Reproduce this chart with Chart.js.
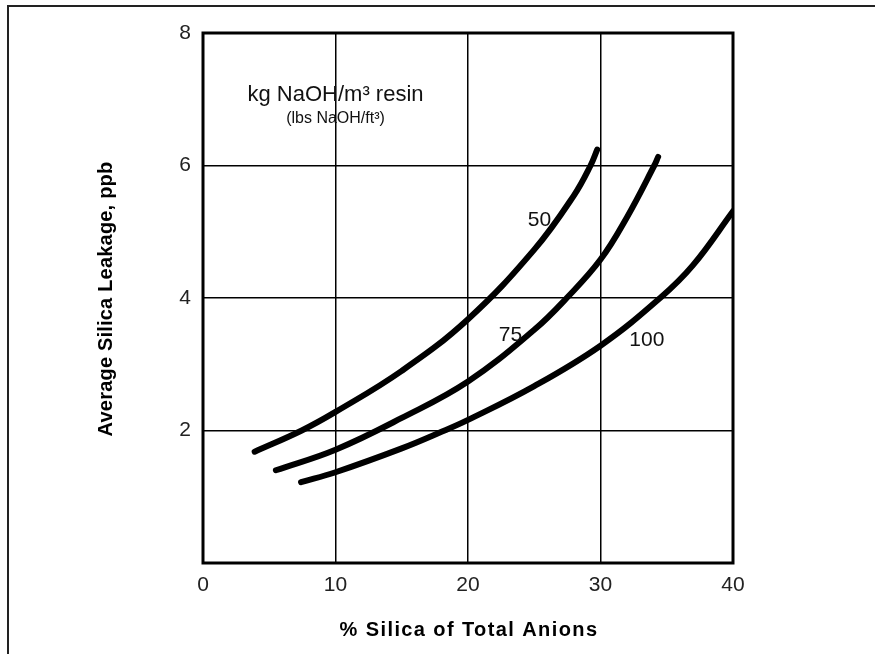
<!DOCTYPE html>
<html>
<head>
<meta charset="utf-8">
<script src="https://cdn.jsdelivr.net/npm/chart.js@4/dist/chart.umd.min.js"></script>
<style>
  html, body { margin: 0; padding: 0; background: #fff; }
  #wrap { width: 875px; height: 654px; position: relative; }
</style>
</head>
<body>
<div id="wrap"><canvas id="c" width="875" height="654"></canvas></div>
<script>
// Silica leakage curves for three regenerant levels (kg NaOH/m3 resin)
const xTicks = [0, 10, 20, 30, 40];
const yTicks = [2, 4, 6, 8];

const levelNames = ['50', '75', '100'];

const silica50 = [3.9, 7.45, 10, 15, 20, 25, 28, 29.25, 29.75];
const leak50   = [1.68, 2.0, 2.28, 2.90, 3.68, 4.73, 5.55, 6.0, 6.24];

const silica75 = [5.5, 10, 15, 20, 25, 27.45, 30, 32, 34.06, 34.35];
const leak75   = [1.40, 1.71, 2.19, 2.74, 3.52, 4.0, 4.58, 5.22, 6.0, 6.13];

const silica100 = [7.4, 10, 15, 18, 20, 25, 30, 34.5, 37, 40];
const leak100   = [1.22, 1.37, 1.73, 1.98, 2.16, 2.67, 3.28, 4.0, 4.50, 5.31];

// where each curve's number label sits (data units)
const labelX = [25.4, 23.2, 33.5];
const labelY = [5.18, 3.44, 3.37];

function pts(xs, ys) { return xs.map((x, i) => ({ x: x, y: ys[i] })); }

const curveStyle = {
  borderColor: '#000',
  borderWidth: 6,
  borderCapStyle: 'round',
  borderJoinStyle: 'round',
  pointRadius: 0,
  fill: false,
  tension: 0.4
};

const FONT = '"Liberation Sans", Arial, sans-serif';

const frameAndText = {
  id: 'frameAndText',
  afterDraw(chart) {
    const ctx = chart.ctx;
    const a = chart.chartArea;
    const xs = chart.scales.x, ys = chart.scales.y;
    ctx.save();
    // outer page frame (top and left edges)
    ctx.strokeStyle = '#222';
    ctx.lineWidth = 2;
    ctx.beginPath();
    ctx.moveTo(8, 654);
    ctx.lineTo(8, 6);
    ctx.lineTo(875, 6);
    ctx.stroke();
    // plot frame
    ctx.strokeStyle = '#000';
    ctx.lineWidth = 3;
    ctx.strokeRect(a.left, a.top, a.right - a.left, a.bottom - a.top);

    // curve labels
    ctx.fillStyle = '#111';
    ctx.textAlign = 'center';
    ctx.textBaseline = 'middle';
    ctx.font = '21px ' + FONT;
    levelNames.forEach((t, i) => {
      ctx.fillText(t, xs.getPixelForValue(labelX[i]), ys.getPixelForValue(labelY[i]));
    });

    // note on the regenerant units
    ctx.font = '22px ' + FONT;
    ctx.fillText('kg NaOH/m³ resin', xs.getPixelForValue(10), ys.getPixelForValue(7.07));
    ctx.font = '16px ' + FONT;
    ctx.fillText('(lbs NaOH/ft³)', xs.getPixelForValue(10), ys.getPixelForValue(6.71));

    // axis titles
    ctx.fillStyle = '#000';
    ctx.font = 'bold 20px ' + FONT;
    ctx.letterSpacing = '1.4px';
    ctx.fillText('% Silica of Total Anions', (a.left + a.right) / 2 + 1, 630);
    ctx.letterSpacing = '0.2px';
    ctx.translate(106, 299);
    ctx.rotate(-Math.PI / 2);
    ctx.fillText('Average Silica Leakage, ppb', 0, 0);
    ctx.restore();
  }
};

new Chart(document.getElementById('c'), {
  type: 'line',
  data: {
    datasets: [
      Object.assign({ label: levelNames[0], data: pts(silica50, leak50) }, curveStyle),
      Object.assign({ label: levelNames[1], data: pts(silica75, leak75) }, curveStyle),
      Object.assign({ label: levelNames[2], data: pts(silica100, leak100) }, curveStyle)
    ]
  },
  options: {
    responsive: false,
    animation: false,
    layout: { padding: { top: 33, right: 142, left: 0, bottom: 0 } },
    plugins: { legend: { display: false }, tooltip: { enabled: false } },
    scales: {
      x: {
        type: 'linear',
        min: 0, max: 40,
        afterBuildTicks(s) { s.ticks = xTicks.map(v => ({ value: v })); },
        afterFit(s) { s.height = 91; },
        grid: { color: '#000', lineWidth: 1.5, drawTicks: false },
        border: { display: false },
        ticks: {
          padding: 10,
          color: '#222',
          font: { family: FONT, size: 21 }
        }
      },
      y: {
        type: 'linear',
        min: 0, max: 8,
        afterBuildTicks(s) { s.ticks = yTicks.map(v => ({ value: v })); },
        afterFit(s) { s.width = 203; },
        grid: { color: '#000', lineWidth: 1.5, drawTicks: false },
        border: { display: false },
        ticks: {
          padding: 12,
          color: '#222',
          font: { family: FONT, size: 21 }
        }
      }
    }
  },
  plugins: [frameAndText]
});
</script>
</body>
</html>
